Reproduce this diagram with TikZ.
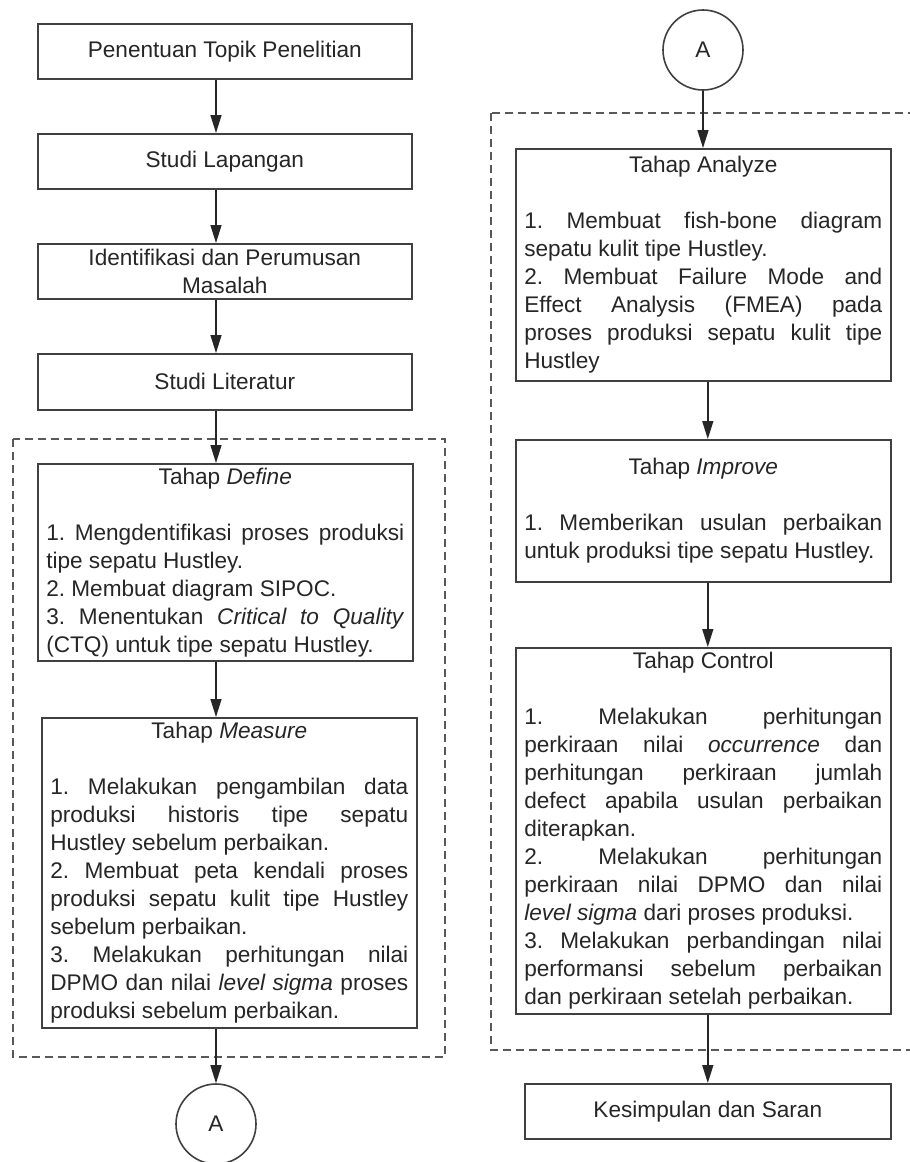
\documentclass[tikz,border=0pt]{standalone}
\usepackage{fontspec}
\setmainfont{Liberation Sans}
\usetikzlibrary{arrows.meta}
\frenchspacing
\newcommand{\bodyfont}{\fontsize{11.3}{14}\selectfont}
\newcommand{\phasetext}[2]{\parbox{179pt}{\frenchspacing\tolerance=10000\hyphenpenalty=10000\exhyphenpenalty=10000\relax
{\centering #1\par}\vspace{14pt}#2}}
\begin{document}
\begin{tikzpicture}[x=0.5pt,y=-0.5pt,
  box/.style={draw=black!75, line width=0.8pt, rectangle, inner sep=0pt,
    font=\bodyfont, text=black!85, anchor=north west, align=center},
  phase/.style={box, inner xsep=4.25pt, inner ysep=0pt},
  conn/.style={draw=black!75, line width=0.8pt, circle, inner sep=0pt,
    minimum size=40pt, font=\bodyfont, text=black!85},
  arr/.style={draw=black!85, line width=0.7pt, -{Triangle[length=9pt,width=5.5pt]}},
  frame/.style={draw=black!65, line width=1pt, dash pattern=on 4pt off 2.5pt}
]
\useasboundingbox (0,0) rectangle (910,1162);
\fill[white] (0,0) rectangle (910,1162);

% frames
\draw[frame] (13,439) rectangle (445,1057);
\draw[frame] (491,113) rectangle (930,1050);

% left column
\node[box, minimum width=187pt, minimum height=27.5pt] (b1) at (37,23) {Penentuan Topik Penelitian};
\node[box, minimum width=187pt, minimum height=27.5pt] (b2) at (37,133) {Studi Lapangan};
\node[box, minimum width=187pt, minimum height=27.5pt] (b3) at (37,243) {Identifikasi dan Perumusan\\Masalah};
\node[box, minimum width=187pt, minimum height=28pt] (b4) at (37,353) {Studi Literatur};

\node[phase, minimum width=187pt, minimum height=98.5pt] (define) at (37,463) {\phasetext{Tahap \textit{Define}}{%
1. Mengdentifikasi proses produksi\linebreak tipe sepatu Hustley.\par
2. Membuat diagram SIPOC.\par
3. Menentukan \textit{Critical to Quality}\linebreak (CTQ) untuk tipe sepatu Hustley.}};

\node[phase, minimum width=187.5pt, minimum height=155pt] (measure) at (41,717) {\phasetext{Tahap \textit{Measure}}{%
1. Melakukan pengambilan data\linebreak produksi historis tipe sepatu\linebreak Hustley sebelum perbaikan.\par
2. Membuat peta kendali proses\linebreak produksi sepatu kulit tipe Hustley\linebreak sebelum perbaikan.\par
3. Melakukan perhitungan nilai\linebreak DPMO dan nilai \textit{level sigma} proses\linebreak produksi sebelum perbaikan.}};

\node[conn] (A1) at (216,1124) {A};

% right column
\node[conn] (A2) at (703,50) {A};

\node[phase, minimum width=187.5pt, minimum height=116pt] (analyze) at (515,148) {\phasetext{Tahap Analyze}{%
1. Membuat fish-bone diagram\linebreak sepatu kulit tipe Hustley.\par
2. Membuat Failure Mode and\linebreak Effect Analysis (FMEA) pada\linebreak proses produksi sepatu kulit tipe\linebreak Hustley}};

\node[phase, minimum width=187.5pt, minimum height=71pt] (improve) at (515,439) {\phasetext{Tahap \textit{Improve}}{%
1. Memberikan usulan perbaikan\linebreak untuk produksi tipe sepatu Hustley.}};

\node[phase, minimum width=187.5pt, minimum height=183pt] (control) at (515,647) {\phasetext{Tahap Control}{%
1. Melakukan perhitungan\linebreak perkiraan nilai \textit{occurrence} dan\linebreak perhitungan perkiraan jumlah\linebreak defect apabila usulan perbaikan\linebreak diterapkan.\par
2. Melakukan perhitungan\linebreak perkiraan nilai DPMO dan nilai\linebreak \textit{level sigma} dari proses produksi.\par
3. Melakukan perbandingan nilai\linebreak performansi sebelum perbaikan\linebreak dan perkiraan setelah perbaikan.}};

\node[box, minimum width=183pt, minimum height=27.5pt] (kes) at (524,1083) {Kesimpulan dan Saran};

% connectors
\draw[arr] (b1.south -| A1) -- (b2.north -| A1);
\draw[arr] (b2.south -| A1) -- (b3.north -| A1);
\draw[arr] (b3.south -| A1) -- (b4.north -| A1);
\draw[arr] (b4.south -| A1) -- (define.north -| A1);
\draw[arr] (define.south -| A1) -- (measure.north -| A1);
\draw[arr] (measure.south -| A1) -- (A1.north);

\draw[arr] (A2.south) -- (analyze.north -| A2);
\draw[arr] (analyze.south -| kes.north) -- (improve.north -| kes.north);
\draw[arr] (improve.south -| kes.north) -- (control.north -| kes.north);
\draw[arr] (control.south -| kes.north) -- (kes.north);
\end{tikzpicture}
\end{document}
